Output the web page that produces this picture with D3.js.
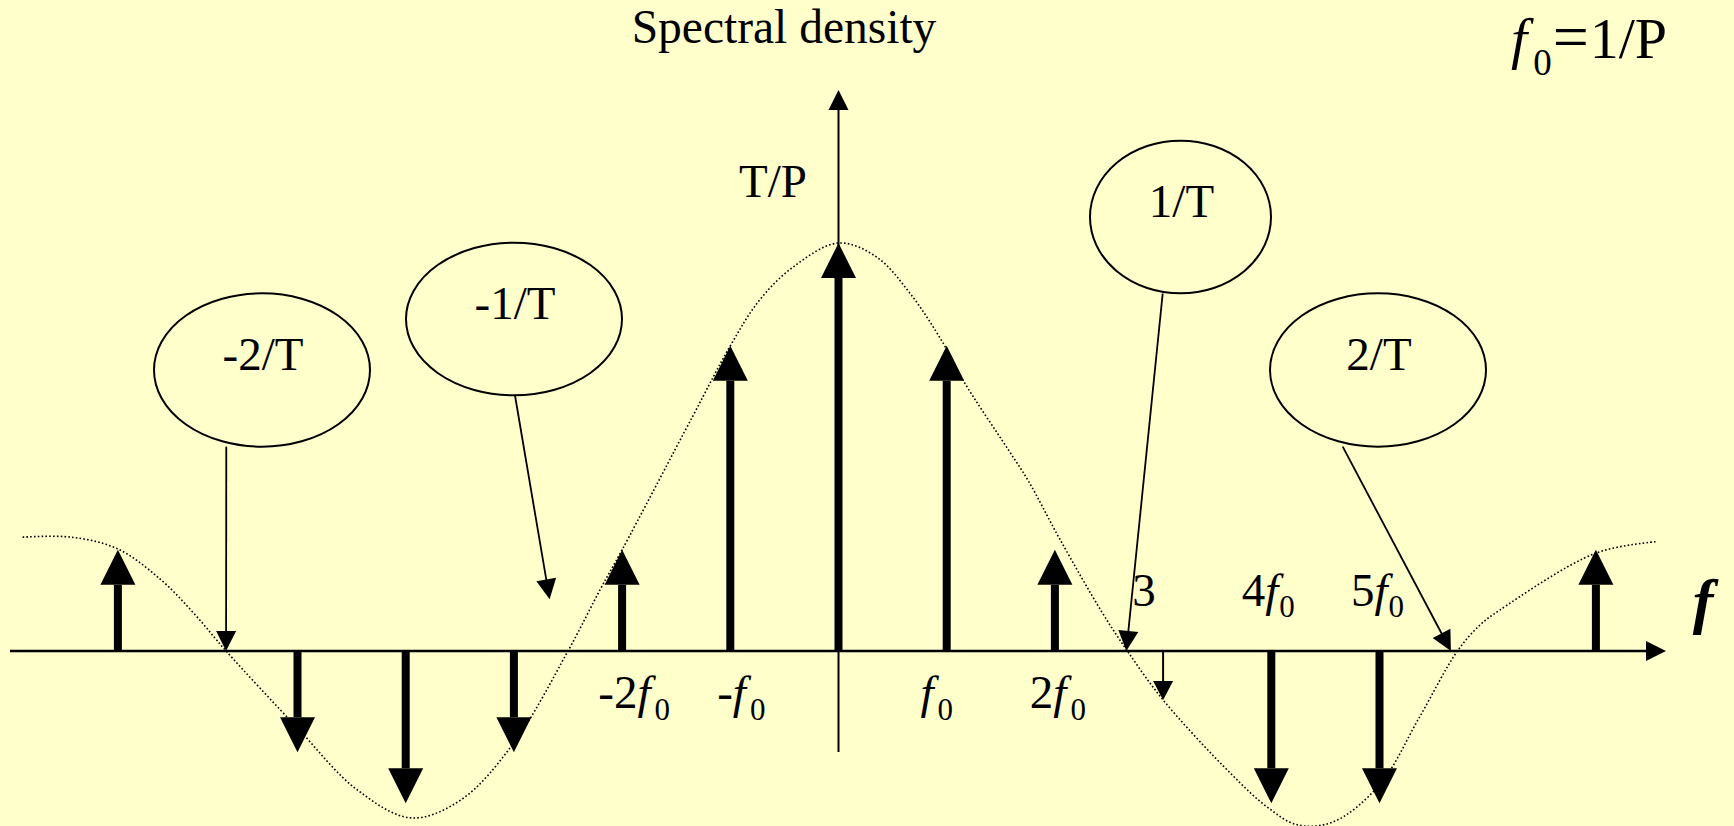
<!DOCTYPE html>
<html>
<head>
<meta charset="utf-8">
<script src="https://cdn.jsdelivr.net/npm/d3@7"></script>
<style>
  html, body { margin: 0; padding: 0; background: #ffffcc; }
  svg { display: block; }
  text { font-family: "Liberation Serif", "Times New Roman", serif; fill: #000; }
</style>
</head>
<body>
<script>
// Spectral lines: position in multiples of f0, amplitude relative to T/P (= 1)
const lineFreqs = [-6.66, -5, -4, -3, -2, -1, 0, 1, 2, 4, 5, 7];
const lineAmps  = [0.248, -0.248, -0.373, -0.248, 0.248, 0.748, 1, 0.748, 0.248, -0.373, -0.373, 0.248];

// Weak line at 3f0, drawn as a thin arrow
const weakFreqs = [3];
const weakAmps  = [-0.12];

// Sinc-shaped envelope (dotted)
const envFreqs = [-7.54, -7.09, -6.66, -6.26, -5.96, -5.66, -5.0, -4.45, -3.95, -3.49, -3.0, -2.5, -2.2, -2.0,
                  -1.35, -1.0, -0.73, -0.42, 0, 0.35, 0.66, 0.966, 1.15, 1.57, 1.75, 2.05, 2.44, 2.67, 3.0,
                  3.62, 3.96, 4.24, 4.57, 5.0, 5.37, 5.72, 5.93, 6.11, 7.0, 7.56];
const envAmps  = [0.279, 0.279, 0.25, 0.174, 0.093, 0, -0.189, -0.34, -0.409, -0.365, -0.225, 0, 0.152, 0.248,
                  0.574, 0.748, 0.86, 0.941, 1, 0.966, 0.877, 0.755, 0.664, 0.493, 0.419, 0.272, 0.093, 0, -0.12,
                  -0.299, -0.382, -0.426, -0.419, -0.328, -0.162, 0, 0.064, 0.1, 0.24, 0.268];

// Harmonic labels below the axis
const lowFreqs = [-2, -1, 1, 2];
const lowCoefs = ["-2", "-", "", "2"];
// Harmonic labels above the axis
const highFreqs = [3, 4, 5];
const highCoefs = ["3", "4", "5"];
const highHasF  = [false, true, true];

// Zero-crossing callouts
const calloutTexts = ["-2/T", "-1/T", "1/T", "2/T"];
const calloutFreqs = [-5.66, -2.67, 2.66, 5.66];
const calloutAmps  = [0, 0.127, 0, 0];

// ---------------------------------------------------------------
const W = 1734, H = 826;
const SERIF = "'Liberation Serif', 'Times New Roman', serif";
const svg = d3.select("body").append("svg").attr("width", W).attr("height", H);
svg.append("rect").attr("width", W).attr("height", H).attr("fill", "#ffffcc");

const x = d3.scaleLinear().domain([0, 1]).range([838.5, 946.7]);
const y = d3.scaleLinear().domain([0, 1]).range([651, 243]);
const y0 = y(0), xc = x(0);

// arrow head polygon pointing from (x1,y1) to tip (x2,y2)
function headPath(x1, y1, x2, y2, len, half) {
  const dx = x2 - x1, dy = y2 - y1, L = Math.hypot(dx, dy);
  const ux = dx / L, uy = dy / L;
  const bx = x2 - ux * len, by = y2 - uy * len;
  const px = -uy * half, py = ux * half;
  return `M${x2},${y2}L${bx + px},${by + py}L${bx - px},${by - py}Z`;
}
function thinArrow(g, x1, y1, x2, y2, len, half, sw) {
  const L = Math.hypot(x2 - x1, y2 - y1);
  const ex = x2 - (x2 - x1) / L * (len - 1), ey = y2 - (y2 - y1) / L * (len - 1);
  g.append("line").attr("x1", x1).attr("y1", y1).attr("x2", ex).attr("y2", ey)
    .attr("stroke", "#000").attr("stroke-width", sw);
  g.append("path").attr("d", headPath(x1, y1, x2, y2, len, half)).attr("fill", "#000");
}
function label(px, py, size) {
  return svg.append("text").attr("x", px).attr("y", py)
    .attr("font-family", SERIF).attr("font-size", size);
}

// envelope
const envData = envFreqs.map((f, i) => [f, envAmps[i]]);
svg.append("path")
  .attr("d", d3.line().x(d => x(d[0])).y(d => y(d[1])).curve(d3.curveCatmullRom.alpha(0.5))(envData))
  .attr("fill", "none").attr("stroke", "#000").attr("stroke-width", 1.6)
  .attr("stroke-dasharray", "1.6,2.2");

// axes
const axes = svg.append("g");
thinArrow(axes, 10, y0, 1666, y0, 20, 10, 2.5);
thinArrow(axes, xc, 752, xc, 90, 20, 10, 2);

// spectral lines
const lines = svg.append("g");
lineFreqs.forEach((f, i) => {
  const a = lineAmps[i];
  const px = x(f), tip = y(a), dir = a > 0 ? 1 : -1;
  const base = tip + dir * 35;
  lines.append("rect").attr("x", px - 4).attr("width", 8)
    .attr("y", Math.min(y0, base)).attr("height", Math.abs(base - y0)).attr("fill", "#000");
  lines.append("path").attr("d", headPath(px, y0, px, tip, 35, 17.5)).attr("fill", "#000");
});
weakFreqs.forEach((f, i) => thinArrow(lines, x(f), y0, x(f), y(weakAmps[i]), 19, 10, 2));

// harmonic labels
const FS = 47, SUB = 31;
const lowNudge = [12, 11, -10, 3];
lowFreqs.forEach((f, i) => {
  const t = label(x(f) + lowNudge[i], 708, FS).attr("text-anchor", "middle");
  if (lowCoefs[i]) t.append("tspan").text(lowCoefs[i]);
  t.append("tspan").attr("font-style", "italic").text("f");
  t.append("tspan").attr("font-size", SUB).attr("dx", 4).attr("dy", 12).text("0");
});
const highNudge = [-19, -3, -2];
highFreqs.forEach((f, i) => {
  const t = label(x(f) + highNudge[i], 606, FS).attr("text-anchor", "middle");
  t.append("tspan").text(highCoefs[i]);
  if (highHasF[i]) {
    t.append("tspan").attr("font-style", "italic").text("f");
    t.append("tspan").attr("font-size", SUB).attr("dx", 1).attr("dy", 11).text("0");
  }
});

// callouts
const ellCx = [262, 514, 1180.5, 1378], ellCy = [370, 319, 217, 370];
const ellRx = [108, 108, 90.5, 108], ellRy = [76.7, 76.3, 76.3, 76.7];
const startX = [226.3, 515, 1162.7, 1342.7], startY = [446.7, 395.5, 293.5, 446.7];
const callouts = svg.append("g");
calloutTexts.forEach((txt, i) => {
  callouts.append("ellipse").attr("cx", ellCx[i]).attr("cy", ellCy[i])
    .attr("rx", ellRx[i]).attr("ry", ellRy[i])
    .attr("fill", "none").attr("stroke", "#000").attr("stroke-width", 2);
  label(ellCx[i] + 1, ellCy[i], FS).attr("text-anchor", "middle").text(txt);
  thinArrow(callouts, startX[i], startY[i], x(calloutFreqs[i]), y(calloutAmps[i]), 20, 10, 1.8);
});

// titles
label(784, 43, 47.5).attr("text-anchor", "middle").text("Spectral density");
label(773, 197, 47).attr("text-anchor", "middle").text("T/P");

const rel = label(1511, 58, 58);
rel.append("tspan").attr("font-style", "italic").text("f");
rel.append("tspan").attr("font-size", 37).attr("dx", 6).attr("dy", 17).text("0");
rel.append("tspan").attr("dx", 1).attr("dy", -17).attr("font-size", 64).text("=");
rel.append("tspan").attr("dx", 1).text("1/P");

label(1703, 622, 62).attr("text-anchor", "middle")
  .attr("font-weight", "bold").attr("font-style", "italic").text("f");
</script>
</body>
</html>
